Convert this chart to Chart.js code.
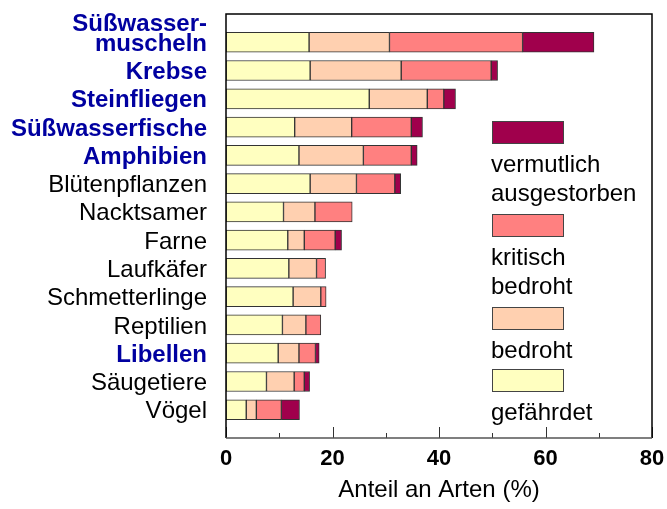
<!DOCTYPE html>
<html>
<head>
<meta charset="utf-8">
<script src="https://cdn.jsdelivr.net/npm/chart.js@4.4.1/dist/chart.umd.min.js"></script>
<style>
  body { margin: 0; background: #fff; }
  #wrap { width: 667px; height: 509px; }
</style>
</head>
<body>
<div id="wrap"><canvas id="myChart"></canvas></div>
<script>
// categories top to bottom
const categories = [
  ['Süßwasser-', 'muscheln'], 'Krebse', 'Steinfliegen', 'Süßwasserfische', 'Amphibien',
  'Blütenpflanzen', 'Nacktsamer', 'Farne', 'Laufkäfer', 'Schmetterlinge',
  'Reptilien', 'Libellen', 'Säugetiere', 'Vögel'
];
// aquatic groups, labelled in blue
const blueRows = [0, 1, 2, 3, 4, 11];

const gefaehrdet = [15.6, 15.8, 26.9, 12.9, 13.7, 15.8, 10.8, 11.6, 11.8, 12.6, 10.6, 9.8, 7.6, 3.8];
const bedroht    = [15.1, 17.1, 10.9, 10.7, 12.1,  8.7,  5.9,  3.1,  5.2,  5.2,  4.4, 3.9, 5.2, 1.9];
const kritisch   = [25.0, 16.9,  3.1, 11.2,  9.0,  7.2,  7.0,  5.8,  1.7,  1.0,  2.8, 3.1, 1.9, 4.7];
const vermutlich = [13.4,  1.2,  2.2,  2.1,  1.1,  1.1,  0,    1.2,  0,    0,    0,   0.7, 1.0, 3.4];

const xTicks = [0, 20, 40, 60, 80];

const colYellow = '#ffffc0';
const colPeach = '#ffd0b0';
const colSalmon = '#ff8080';
const colWine = '#a0004c';
const blue = '#0000a0';
const FONT = '"Liberation Sans", Arial, sans-serif';

// empty slot above and below so the rows sit half a step in from the frame
const pad = arr => [null, ...arr, null];
const yLabels = ['', ...categories, ''];

const frameAndTicks = {
  id: 'frameAndTicks',
  afterDraw(chart) {
    const c = chart.ctx;
    const a = chart.chartArea;
    const xs = chart.scales.x;
    c.save();
    // inward ticks on the x axis
    c.strokeStyle = '#333';
    c.lineWidth = 1;
    for (let v = 0; v <= 80; v += 10) {
      const px = Math.round(xs.getPixelForValue(v)) + 0.5;
      const len = xTicks.includes(v) ? 11 : 5;
      c.beginPath();
      c.moveTo(px, a.bottom);
      c.lineTo(px, a.bottom - len);
      c.stroke();
    }
    // frame
    c.lineWidth = 1.5;
    c.strokeStyle = '#000';
    c.beginPath();
    c.moveTo(a.left, a.bottom);
    c.lineTo(a.left, a.top);
    c.lineTo(a.right, a.top);
    c.lineTo(a.right, a.bottom);
    c.stroke();
    c.strokeStyle = '#555';
    c.beginPath();
    c.moveTo(a.left, a.bottom);
    c.lineTo(a.right, a.bottom);
    c.stroke();

    // legend, reversed order, labels below boxes
    const items = [
      { ds: 3, lines: ['vermutlich', 'ausgestorben'], y: 121 },
      { ds: 2, lines: ['kritisch', 'bedroht'], y: 214 },
      { ds: 1, lines: ['bedroht'], y: 307 },
      { ds: 0, lines: ['gefährdet'], y: 369 }
    ];
    c.font = '24px ' + FONT;
    c.textAlign = 'left';
    c.textBaseline = 'alphabetic';
    items.forEach(it => {
      const ds = chart.data.datasets[it.ds];
      c.fillStyle = ds.backgroundColor;
      c.fillRect(492, it.y, 71, 22);
      c.strokeStyle = '#444';
      c.lineWidth = 1;
      c.strokeRect(492.5, it.y + 0.5, 71, 22);
      c.fillStyle = '#000';
      it.lines.forEach((t, i) => c.fillText(t, 491, it.y + 51 + i * 29));
    });
    c.restore();
  }
};

const ctx = document.getElementById('myChart');

new Chart(ctx, {
  type: 'bar',
  data: {
    labels: yLabels,
    datasets: [
      { label: 'gefährdet', data: pad(gefaehrdet), backgroundColor: colYellow },
      { label: 'bedroht', data: pad(bedroht), backgroundColor: colPeach },
      { label: 'kritisch bedroht', data: pad(kritisch), backgroundColor: colSalmon },
      { label: 'vermutlich ausgestorben', data: pad(vermutlich), backgroundColor: colWine }
    ].map(d => Object.assign(d, {
      borderColor: '#333',
      borderWidth: 1,
      borderSkipped: false,
      barThickness: 20
    }))
  },
  options: {
    indexAxis: 'y',
    responsive: true,
    maintainAspectRatio: false,
    animation: false,
    layout: { padding: { top: 14, right: 15, left: 0, bottom: 0 } },
    plugins: {
      legend: { display: false },
      tooltip: { enabled: false }
    },
    scales: {
      x: {
        stacked: true,
        min: 0,
        max: 80,
        grid: { display: false, drawTicks: false },
        border: { display: false },
        ticks: {
          stepSize: 10,
          autoSkip: false,
          maxRotation: 0,
          padding: 8,
          color: '#000',
          font: { family: FONT, size: 22, weight: 'bold' },
          callback: v => xTicks.includes(v) ? v : ''
        },
        title: {
          display: true,
          text: 'Anteil an Arten (%)',
          color: '#000',
          padding: { top: 0, bottom: 4 },
          font: { family: FONT, size: 24 }
        },
        afterFit: s => { s.height = 71; s.paddingLeft = 0; s.paddingRight = 0; }
      },
      y: {
        stacked: true,
        offset: false,
        grid: { display: false, drawTicks: false },
        border: { display: false },
        afterFit: s => { s.width = 226; s.paddingTop = 0; s.paddingBottom = 0; },
        ticks: {
          autoSkip: false,
          padding: 19,
          labelOffset: 2,
          // two-line label: keep the second line level with its bar
          callback: function (v) {
            const l = this.getLabelForValue(v);
            return Array.isArray(l) ? [...l, ''] : l;
          },
          color: c => blueRows.includes(c.index - 1) ? blue : '#000',
          font: c => ({
            family: FONT,
            size: 24,
            weight: blueRows.includes(c.index - 1) ? 'bold' : 'normal',
            lineHeight: 0.82
          })
        }
      }
    }
  },
  plugins: [frameAndTicks]
});
</script>
</body>
</html>
